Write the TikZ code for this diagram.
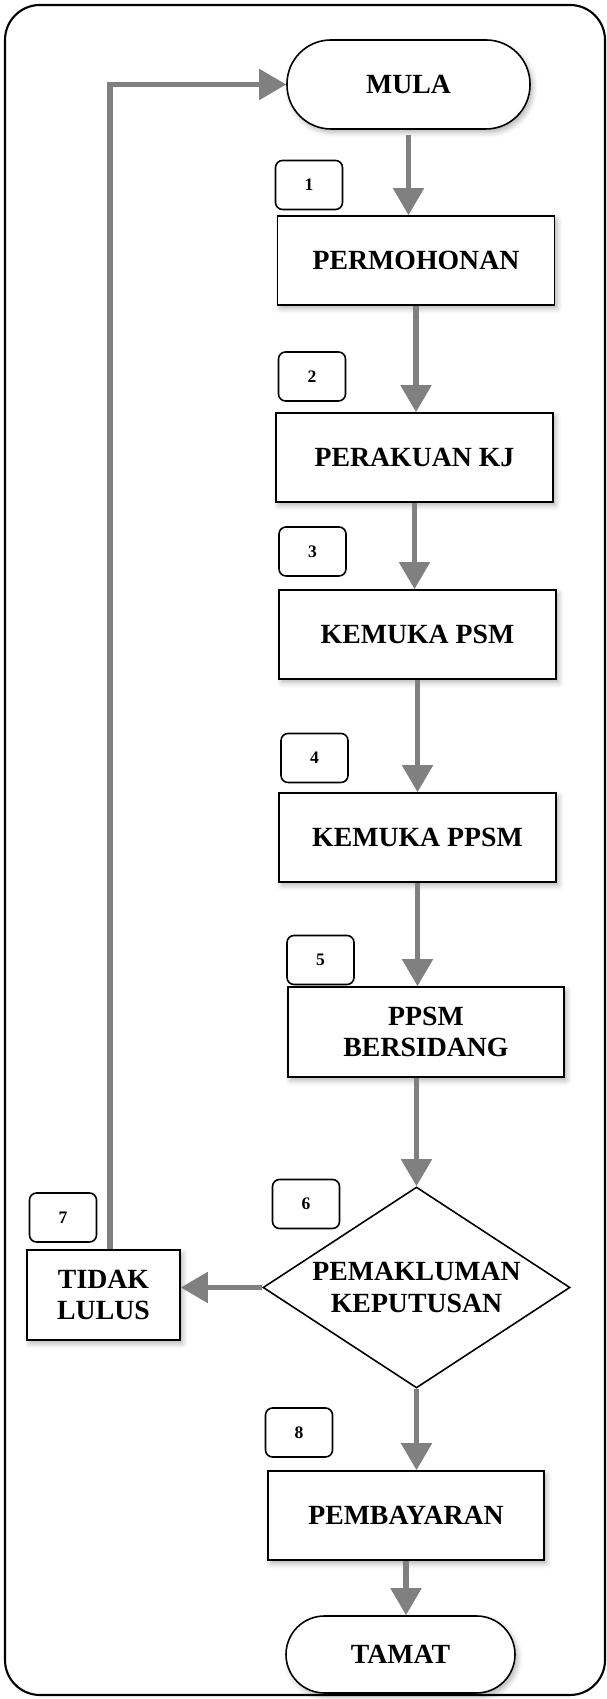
\documentclass[tikz,border=0pt]{standalone}
\usepackage{fontspec}
\setmainfont{Liberation Serif}
\usetikzlibrary{arrows.meta,shapes.geometric,shadows.blur}
\definecolor{fcgrey}{RGB}{128,128,128}

\begin{document}
\begin{tikzpicture}[
  font=\bfseries\fontsize{15.8}{18}\selectfont,
  stepbox/.style={draw=black, line width=0.9pt, fill=white, align=center,
    minimum width=5.54cm, minimum height=1.78cm, inner sep=2pt,
    blur shadow={shadow xshift=1.5pt, shadow yshift=-2pt,
      shadow blur radius=3pt, shadow opacity=30}},
  term/.style={stepbox, rounded corners=0.88cm, minimum width=4.86cm},
  dec/.style={diamond, draw=black, line width=0.9pt, fill=white, align=center,
    aspect=1.53, inner sep=0pt, minimum width=6.14cm, minimum height=4.02cm},
  numbox/.style={draw=black, line width=0.9pt, rounded corners=4pt, fill=white,
    minimum width=1.34cm, minimum height=0.98cm,
    font=\bfseries\fontsize{10}{12}\selectfont},
  arr/.style={-{Triangle[length=5.4mm, width=6mm]}, fcgrey, line width=2.9pt}
]
\useasboundingbox (0,0) rectangle (12.12,33.98);
\draw[line width=1.2pt, rounded corners=0.7cm] (0.1,0.08) rectangle (12.1,33.88);

% main column
\node[term] (mula) at (8.17,32.29) {MULA};
\node[stepbox] (perm) at (8.32,28.77) {PERMOHONAN};
\node[stepbox] (perak) at (8.29,24.83) {PERAKUAN KJ};
\node[stepbox] (psm) at (8.35,21.29) {KEMUKA PSM};
\node[stepbox] (ppsm) at (8.35,17.23) {KEMUKA PPSM};
\node[stepbox, minimum width=5.52cm, minimum height=1.8cm] (sidang) at (8.52,13.34) {PPSM\\BERSIDANG};
\node[dec] (putus) at (8.33,8.23) {PEMAKLUMAN\\KEPUTUSAN};
\node[stepbox, minimum width=3.06cm, minimum height=1.8cm] (tidak) at (2.07,8.08) {TIDAK\\LULUS};
\node[stepbox, minimum width=5.52cm] (bayar) at (8.12,3.67) {PEMBAYARAN};
\node[term, minimum width=4.58cm, minimum height=1.54cm, rounded corners=0.77cm] (tamat) at (8.01,0.89) {TAMAT};

% step numbers
\node[numbox] (n1) at (6.18,30.28) {1};
\node[numbox] (n2) at (6.24,26.45) {2};
\node[numbox] (n3) at (6.25,22.95) {3};
\node[numbox] (n4) at (6.29,18.82) {4};
\node[numbox] (n5) at (6.41,14.78) {5};
\node[numbox] (n6) at (6.12,9.90) {6};
\node[numbox] (n7) at (1.26,9.63) {7};
\node[numbox] (n8) at (5.98,5.33) {8};

% connectors
\draw[arr, shorten <=0.1cm] (mula.south) -- (mula.south |- perm.north);
\draw[arr] (perm.south) -- (perm.south |- perak.north);
\draw[arr] (perak.south) -- (perak.south |- psm.north);
\draw[arr] (psm.south) -- (psm.south |- ppsm.north);
\draw[arr] (ppsm.south) -- (ppsm.south |- sidang.north);
\draw[arr] (putus.north |- sidang.south) -- (putus.north);
\draw[arr] (putus.south) -- (putus.south |- bayar.north);
\draw[arr] (bayar.south) -- (bayar.south |- tamat.north);
\draw[arr] (putus.west) -- (putus.west -| tidak.east);
\draw[arr] ([xshift=1.3mm]tidak.north) |- (mula.west);
\end{tikzpicture}
\end{document}
